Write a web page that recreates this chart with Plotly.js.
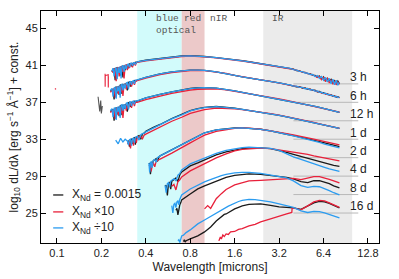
<!DOCTYPE html>
<html>
<head>
<meta charset="utf-8">
<script src="https://cdn.plot.ly/plotly-3.0.1.min.js"></script>
<style>html,body{margin:0;padding:0;background:#fff;}#chart{width:399px;height:279px;}</style>
</head>
<body>
<div id="chart"></div>
<script>
// ---------- data (wavelength in microns, log10 dL/dλ + const.) ----------
const epochs = ['3 h','6 h','12 h','1 d','2 d','4 d','8 d','16 d'];
const offsets = [39,37,35,33,31,29,27,25];
const modelNames = ['X<sub>Nd</sub> = 0.0015','X<sub>Nd</sub> ×10','X<sub>Nd</sub> ÷10'];
const bands = [[0.35,0.7],[0.7,1.0],[2.5,10]];
const xTicks = [0.1,0.2,0.4,0.8,1.6,3.2,6.4,12.8];
const yTicks = [25,29,33,37,41,45];

const lam_3h = [0.236,0.24,0.244,0.248,0.252,0.256,0.26,0.264,0.268,0.272,0.276,0.28,0.285,0.29,0.295,0.3,0.305,0.31,0.315,0.32,0.325,0.33,0.335,0.34,0.345,
  0.35,0.4,0.45,0.5,0.6,0.7,0.8,0.9,1.0,1.2,1.4,1.6,1.8,2.0,2.4,2.8,3.2,3.6,
  3.8,4.0,4.2,4.4,4.6,4.8,5.0,5.2,5.4,5.6,5.8,6.0,6.2,6.4,6.6,6.8,7.0,7.2,7.4,7.6,7.8,8.0,8.2];
const k_3h = [40.3,40.6,40.65,39.4,40.7,40.75,40.2,40.8,39.9,40.85,40.9,39.7,41.0,40.5,41.05,40.9,40.7,41.15,41.2,40.9,41.25,41.1,41.3,41.35,41.3,
  41.4,41.56,41.67,41.78,41.94,42.02,42.05,42.03,41.97,41.85,41.75,41.62,41.51,41.4,41.2,41.04,40.9,40.74,
  40.65,40.6,40.45,40.42,40.28,40.25,40.1,40.08,39.95,39.92,39.75,39.85,39.5,39.75,39.3,39.6,39.35,39.5,39.1,39.4,39.0,39.3,39.0];
const r_3h = [40.5,40.2,40.6,40.65,39.3,40.7,40.75,39.8,40.8,40.85,40.3,40.95,39.6,41.0,41.05,40.5,41.1,40.7,41.15,41.2,40.8,41.25,41.3,41.0,41.3,
  41.33,41.5,41.61,41.72,41.88,41.97,42.0,41.99,41.93,41.82,41.72,41.59,41.48,41.37,41.18,41.02,40.89,40.73,
  40.64,40.57,40.48,40.36,40.31,40.2,40.12,40.03,39.97,39.85,39.7,39.8,39.45,39.7,39.25,39.65,39.1,39.45,38.95,39.35,38.9,39.2,38.95];
const b_3h = [40.4,40.7,39.8,40.6,40.75,39.5,40.8,40.2,40.9,39.6,40.9,41.0,40.3,41.05,40.6,41.1,41.15,40.8,41.2,41.25,40.95,41.3,41.3,41.1,41.35,
  41.39,41.55,41.66,41.77,41.93,42.01,42.04,42.02,41.96,41.84,41.74,41.61,41.5,41.39,41.19,41.03,40.9,40.74,
  40.68,40.55,40.5,40.35,40.33,40.18,40.17,40.0,40.02,39.8,39.9,39.6,39.8,39.4,39.7,39.2,39.6,39.0,39.5,38.9,39.4,38.85,39.2];

const lam_6h = [0.23,0.236,0.24,0.244,0.248,0.252,0.256,0.26,0.264,0.268,0.272,0.276,0.28,0.285,0.29,0.295,0.3,0.305,0.31,0.315,0.32,0.325,0.33,0.335,0.34,0.345,
  0.35,0.4,0.45,0.5,0.6,0.7,0.8,0.9,1.0,1.2,1.4,1.6,1.8,2.0,2.4,2.8,3.2,3.6,
  3.8,4.0,4.2,4.4,4.6,4.8,5.0,5.2,5.4,5.6,5.8,6.0,6.2,6.4,6.6,6.8,7.0,7.2,7.4,7.6,7.8,8.0,8.2];
const k_6h = [38.2,38.4,38.45,37.3,38.6,38.65,38.0,38.75,37.8,38.85,38.9,37.9,39.0,38.6,39.05,38.8,38.3,39.15,39.2,38.7,39.25,39.1,39.3,39.35,39.3,39.4,
  39.42,39.7,39.91,40.08,40.3,40.43,40.5,40.5,40.47,40.3,40.14,39.92,39.76,39.65,39.44,39.27,39.11,38.95,
  38.85,38.82,38.68,38.7,38.55,38.56,38.42,38.43,38.29,38.31,38.15,38.17,38.03,38.05,37.91,37.92,37.78,37.8,37.68,37.7,37.58,37.6,37.5];
const r_6h = [38.1,38.35,38.4,38.5,37.5,38.55,38.6,37.9,38.7,38.75,38.1,38.85,37.7,38.9,38.95,38.4,39.0,38.6,39.05,39.1,38.7,39.15,39.2,38.9,39.25,39.3,
  39.36,39.62,39.84,40.01,40.23,40.37,40.45,40.46,40.44,40.28,40.13,39.91,39.75,39.64,39.43,39.26,39.1,38.94,
  38.86,38.78,38.74,38.64,38.6,38.5,38.47,38.37,38.35,38.25,38.2,38.1,38.06,37.98,37.93,37.87,37.8,37.75,37.7,37.64,37.6,37.55,37.5];
const b_6h = [38.3,38.5,37.6,38.55,38.6,37.4,38.7,38.2,38.8,37.5,38.9,38.95,38.3,39.0,38.5,39.1,39.15,38.4,39.2,39.25,38.9,39.3,39.35,39.0,39.4,39.42,
  39.44,39.71,39.92,40.09,40.3,40.43,40.5,40.5,40.47,40.3,40.14,39.92,39.76,39.65,39.44,39.27,39.11,38.95,
  38.9,38.75,38.76,38.62,38.62,38.47,38.5,38.34,38.37,38.22,38.23,38.08,38.1,37.96,37.99,37.84,37.85,37.72,37.74,37.6,37.65,37.52,37.56];

const lam_12h = [0.23,0.236,0.24,0.244,0.248,0.252,0.256,0.26,0.264,0.268,0.272,0.276,0.28,0.285,0.29,0.295,0.3,0.305,0.31,0.315,0.32,0.325,0.33,0.335,0.34,0.345,
  0.35,0.4,0.45,0.5,0.6,0.7,0.8,0.9,1.0,1.2,1.4,1.6,1.8,2.0,2.4,2.8,3.2,3.6,4.0,4.5,5.0,5.5,6.0,6.5,7.0,7.5,8.2];
const k_12h = [36.0,36.2,36.25,35.0,36.35,36.4,35.7,36.5,35.5,36.6,36.65,35.6,36.75,36.3,36.8,36.6,36.0,36.95,37.0,36.5,37.05,36.9,37.1,37.12,37.0,37.14,
  37.14,37.47,37.7,37.87,38.14,38.36,38.5,38.58,38.6,38.55,38.42,38.25,38.09,37.95,37.71,37.55,37.38,37.21,37.05,36.89,36.72,36.58,36.45,36.32,36.18,36.07,35.91];
const r_12h = [35.9,36.1,36.15,36.2,35.2,36.3,36.35,35.6,36.45,36.5,35.8,36.6,35.3,36.65,36.7,36.1,36.8,36.3,36.85,36.9,36.4,36.95,37.0,36.6,37.0,37.02,
  37.0,37.3,37.52,37.68,37.96,38.18,38.32,38.42,38.46,38.45,38.36,38.21,38.06,37.93,37.69,37.53,37.37,37.21,37.05,36.89,36.73,36.59,36.46,36.33,36.2,36.09,35.94];
const b_12h = [36.1,36.3,35.4,36.35,36.4,35.1,36.5,36.0,36.6,35.3,36.7,36.75,36.1,36.8,36.3,36.9,36.95,36.2,37.0,37.05,36.6,37.1,37.1,36.8,37.15,37.16,
  37.16,37.48,37.7,37.86,38.13,38.35,38.48,38.57,38.59,38.54,38.41,38.24,38.08,37.94,37.7,37.54,37.38,37.21,37.05,36.89,36.72,36.58,36.45,36.32,36.18,36.07,35.91];

const lam_1d = [0.25,0.26,0.27,0.28,0.29,0.3,0.305,0.31,0.315,0.32,0.325,0.33,0.335,0.34,0.345,0.35,0.36,0.37,0.38,0.39,
  0.4,0.45,0.5,0.6,0.7,0.8,0.9,1.0,1.2,1.4,1.6,1.8,2.0,2.4,2.8,3.2,3.6,4.0,4.5,5.0,5.5,6.0,6.5,7.0,7.5,8.2];
const k_1d = [null,null,null,null,null,32.7,32.85,32.2,32.95,33.0,32.5,33.1,33.15,32.4,33.25,33.3,33.4,33.0,33.6,33.65,
  33.85,34.28,34.6,35.25,35.68,36.1,36.32,36.45,36.55,36.48,36.36,36.24,36.13,35.91,35.75,35.59,35.42,35.26,35.1,34.94,34.77,34.63,34.5,34.39,34.28,34.18];
const r_1d = [null,null,null,null,null,32.5,32.7,32.75,32.0,32.85,32.9,32.3,33.0,33.05,32.6,33.15,33.25,33.3,33.05,33.45,
  33.55,33.98,34.3,34.95,35.38,35.8,36.02,36.2,36.38,36.38,36.3,36.21,36.12,35.92,35.77,35.62,35.46,35.31,35.15,34.99,34.82,34.67,34.53,34.4,34.28,34.17];
const b_1d = [32.9,32.5,33.1,32.7,33.0,32.8,32.4,32.95,33.0,32.3,33.05,33.1,32.6,33.2,33.25,33.3,32.9,33.5,33.6,33.65,
  33.8,34.23,34.56,35.21,35.64,36.07,36.29,36.42,36.53,36.47,36.35,36.24,36.13,35.91,35.75,35.59,35.42,35.26,35.1,34.94,34.77,34.63,34.5,34.39,34.28,34.18];

const lam_2d = [0.42,0.425,0.43,0.435,0.44,0.445,0.45,0.46,0.47,0.48,0.49,
  0.5,0.6,0.7,0.8,0.9,1.0,1.2,1.4,1.6,1.8,2.0,2.4,2.8,3.2,3.6,4.0,4.5,5.0,5.5,6.0,6.5,7.0,7.5,8.2];
const k_2d = [30.3,30.4,29.2,30.5,30.55,30.1,30.7,30.75,30.9,30.6,31.05,
  31.2,31.86,32.4,32.94,33.37,33.7,34.02,34.15,34.22,34.24,34.21,34.08,33.91,33.75,33.54,33.38,33.22,33.06,32.9,32.75,32.6,32.46,32.34,32.2];
const r_2d = [30.1,30.2,30.25,29.5,30.35,30.4,30.45,30.0,30.6,30.7,30.75,
  30.85,31.5,32.05,32.6,33.05,33.45,33.85,34.05,34.17,34.22,34.2,34.08,33.92,33.77,33.6,33.46,33.32,33.18,33.02,32.88,32.74,32.62,32.5,32.38];
const b_2d = [30.4,29.4,30.5,30.55,29.9,30.65,30.7,30.8,30.5,31.0,31.1,
  31.19,31.84,32.39,32.93,33.36,33.69,34.01,34.14,34.21,34.23,34.2,34.07,33.9,33.74,33.52,33.36,33.18,33.0,32.83,32.66,32.48,32.33,32.2,32.06];

const lam_4d = [0.54,0.55,0.56,0.57,0.58,0.59,0.6,0.62,0.64,0.66,0.68,
  0.7,0.8,0.9,1.0,1.2,1.4,1.6,1.8,2.0,2.4,2.8,3.2,3.6,4.0,4.5,5.0,5.5,6.0,6.5,7.0,7.5,8.2];
const k_4d = [27.9,28.0,26.9,28.2,28.3,27.6,28.45,28.6,28.8,28.4,29.15,
  29.46,30.11,30.43,30.76,31.3,31.63,31.84,31.97,32.04,32.06,31.97,31.79,31.57,31.36,31.14,30.92,30.71,30.54,30.38,30.27,30.16,30.05];
const r_4d = [null,null,null,null,null,null,27.9,28.1,27.5,28.4,28.6,
  28.91,29.57,30.0,30.33,30.98,31.41,31.74,31.9,31.97,32.03,31.97,31.84,31.74,31.63,31.52,31.36,31.19,31.08,30.98,30.87,30.76,30.65];
const b_4d = [28.0,27.2,28.2,28.3,27.8,28.45,28.55,28.7,28.5,29.1,29.3,
  29.68,30.33,30.65,30.98,31.46,31.79,31.97,32.08,32.14,32.11,32.01,31.79,31.41,31.08,30.81,30.54,30.33,30.11,29.95,29.78,29.67,29.51];

const lam_8d = [0.6,0.61,0.62,0.63,0.64,0.65,0.66,0.67,0.68,0.69,
  0.7,0.8,0.9,1.0,1.05,1.1,1.15,1.2,1.3,1.4,1.6,1.8,2.0,2.4,2.8,3.2,3.6,4.0,4.5,5.0,5.5,6.0,6.5,7.0,7.5,8.2];
const k_8d = [null,null,null,null,25.3,25.5,24.8,25.7,25.9,26.1,
  26.42,27.07,27.61,27.94,28.08,28.2,28.35,28.48,28.68,28.86,29.08,29.19,29.24,29.19,29.08,28.97,28.86,28.7,28.4,28.3,28.5,28.52,28.38,28.18,27.95,27.72];
const r_8d = [null,null,null,null,null,null,null,null,null,null,
  null,null,null,25.45,25.8,25.5,26.1,26.55,27.1,27.55,28.05,28.32,28.48,28.54,28.59,28.65,28.7,28.75,28.62,28.78,28.95,28.95,28.83,28.65,28.48,28.26];
const b_8d = [25.8,25.0,25.95,26.05,25.6,26.2,26.3,25.9,26.5,26.7,
  26.96,27.61,28.05,28.37,28.5,28.63,28.78,28.91,29.06,29.19,29.35,29.4,29.4,29.3,29.13,28.97,28.81,28.48,27.98,27.78,27.88,27.85,27.65,27.42,27.2,26.96];

const lam_16d = [0.64,0.65,0.66,0.67,0.68,0.69,0.7,0.72,0.73,0.74,0.75,0.8,0.9,1.0,1.1,1.2,
  1.25,1.28,1.3,1.33,1.36,1.4,1.45,1.5,1.6,1.7,1.8,2.0,2.2,2.4,2.8,3.2,3.6,3.9,3.92,4.0,4.5,5.0,5.5,6.0,6.5,7.0,7.5,8.2];
const k_16d = [null,null,null,null,null,null,null,21.9,22.1,21.85,22.0,22.19,22.52,22.95,23.49,24.14,
  24.4,24.55,24.65,24.78,24.85,24.9,25.05,25.2,25.45,25.62,25.77,25.93,25.97,25.99,25.82,25.66,25.61,25.57,25.56,25.55,25.39,25.77,26.1,26.26,26.21,26.04,25.82,25.55];
const r_16d = [null,null,null,null,null,null,null,null,null,null,null,null,null,null,null,null,
  21.98,22.41,22.19,22.62,22.45,22.73,22.68,22.95,23.0,23.22,23.3,23.6,23.78,24.04,24.36,24.69,24.9,25.06,25.5,25.55,25.34,25.77,26.2,26.37,26.31,26.1,25.88,25.61];
const b_16d = [null,null,22.0,22.1,21.8,22.3,22.52,22.6,22.7,22.8,22.88,23.17,23.82,24.25,24.65,25.01,
  25.15,25.25,25.3,25.4,25.48,25.66,25.75,25.85,26.1,26.25,26.37,26.48,26.45,26.37,26.21,25.99,25.77,25.65,25.64,25.61,25.23,25.06,25.17,25.15,25.01,24.85,24.69,24.47];

// stray short-wavelength fragments
const lam_fragR1 = [0.097,0.0985];
const val_fragR1 = [38.5,38.4];
const lam_fragR2 = [0.212,0.2122,0.2125,0.2225,0.2228,0.223];
const val_fragR2 = [40.1,38.7,39.9,40.0,38.6,39.8];
const lam_fragK = [0.19,0.192,0.195,0.198,0.2,0.203];
const val_fragK = [37.6,36.5,36.0,37.2,35.8,36.6];

// ---------- drawing ----------
const COL_K = '#1a1a1a', COL_R = '#e8203a', COL_B = '#2b9cf0';
const cols = [COL_K, COL_R, COL_B];
const sets = [
  [lam_3h,k_3h,r_3h,b_3h],[lam_6h,k_6h,r_6h,b_6h],[lam_12h,k_12h,r_12h,b_12h],[lam_1d,k_1d,r_1d,b_1d],
  [lam_2d,k_2d,r_2d,b_2d],[lam_4d,k_4d,r_4d,b_4d],[lam_8d,k_8d,r_8d,b_8d],[lam_16d,k_16d,r_16d,b_16d]
];
const traces = [];
offsets.forEach(o => traces.push({x:[4.0,11.0], y:[o,o], mode:'lines', line:{color:'#b8b8b8', width:1}, showlegend:false, hoverinfo:'skip'}));
traces.push({x:lam_fragR1, y:val_fragR1, mode:'lines', line:{color:COL_R,width:1.2}, showlegend:false});
traces.push({x:lam_fragR2, y:val_fragR2, mode:'lines', line:{color:COL_R,width:1.1}, showlegend:false});
traces.push({x:lam_fragK, y:val_fragK, mode:'lines', line:{color:'#555',width:1.1}, showlegend:false});
[0,1,2].forEach(m => {
  sets.forEach((s,i) => {
    traces.push({x:s[0], y:s[m+1], mode:'lines', line:{color:cols[m], width:1.3},
      name:modelNames[m], showlegend:false, connectgaps:false});
  });
});

const shapes = [
  {type:'rect', xref:'x', yref:'paper', x0:bands[0][0], x1:bands[0][1], y0:0, y1:1, fillcolor:'#d2fbfb', line:{width:0}, layer:'below'},
  {type:'rect', xref:'x', yref:'paper', x0:bands[1][0], x1:bands[1][1], y0:0, y1:1, fillcolor:'#ecc9c9', line:{width:0}, layer:'below'},
  {type:'rect', xref:'x', yref:'paper', x0:bands[2][0], x1:bands[2][1], y0:0, y1:1, fillcolor:'#ebebeb', line:{width:0}, layer:'below'}
];
const monoFont = {family:'Liberation Mono, DejaVu Sans Mono, monospace', size:9.5, color:'#555'};
const sansFont = {family:'Liberation Sans, Arial, sans-serif', size:12, color:'#222'};
const annotations = [
  {x:Math.log10(0.455), y:0.966, xref:'x', yref:'paper', text:'blue', showarrow:false, xanchor:'left', yanchor:'middle', font:monoFont},
  {x:Math.log10(0.705), y:0.966, xref:'x', yref:'paper', text:'red', showarrow:false, xanchor:'left', yanchor:'middle', font:monoFont},
  {x:Math.log10(0.455), y:0.914, xref:'x', yref:'paper', text:'optical', showarrow:false, xanchor:'left', yanchor:'middle', font:monoFont},
  {x:Math.log10(1.06), y:0.966, xref:'x', yref:'paper', text:'nIR', showarrow:false, xanchor:'left', yanchor:'middle', font:monoFont},
  {x:Math.log10(2.78), y:0.966, xref:'x', yref:'paper', text:'IR', showarrow:false, xanchor:'left', yanchor:'middle', font:monoFont}
];
epochs.forEach((e,i) => annotations.push({x:Math.log10(9.4), y:offsets[i]+0.72, xref:'x', yref:'y', text:e, showarrow:false,
  xanchor:'left', yanchor:'middle', font:sansFont}));

// legend (line sample + label) in the lower-left corner
const legendRows = [0.207, 0.134, 0.065];
modelNames.forEach((n,m) => {
  shapes.push({type:'line', xref:'paper', yref:'paper', x0:0.036, x1:0.066, y0:legendRows[m], y1:legendRows[m], line:{color:cols[m], width:1.3}});
  annotations.push({x:0.086, y:legendRows[m], xref:'paper', yref:'paper', text:n, showarrow:false, xanchor:'left', yanchor:'middle', font:sansFont});
});

const axisFont = {family:'Liberation Sans, Arial, sans-serif', size:11, color:'#222'};
const layout = {
  width:399, height:279,
  margin:{l:41, r:20, t:11, b:36},
  paper_bgcolor:'#fff', plot_bgcolor:'#fff',
  showlegend:false,
  xaxis:{type:'log', range:[Math.log10(0.078), Math.log10(15.2)], tickvals:xTicks, ticktext:xTicks.map(String),
    ticks:'inside', ticklen:5, tickcolor:'#000', mirror:'allticks', showline:true, linecolor:'#000', linewidth:1,
    showgrid:false, zeroline:false, tickfont:axisFont,
    title:{text:'Wavelength [microns]', font:sansFont, standoff:4}},
  yaxis:{range:[21.75,46.9], tickvals:yTicks, ticks:'inside', ticklen:5, tickcolor:'#000', mirror:'allticks', showline:true,
    linecolor:'#000', linewidth:1, showgrid:false, zeroline:false, tickfont:axisFont,
    title:{text:'log<sub>10</sub> dL/dλ [erg s<sup>−1</sup> Å<sup>−1</sup>] + const.', font:sansFont, standoff:4}},
  shapes:shapes, annotations:annotations
};
Plotly.newPlot('chart', traces, layout, {displayModeBar:false, staticPlot:true});
</script>
</body>
</html>
